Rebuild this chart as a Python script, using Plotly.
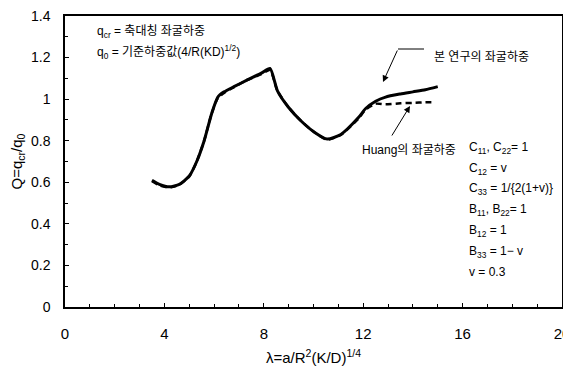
import plotly.graph_objects as go

# Data
lam_main = [3.5, 3.8, 4.2, 4.6, 5.0, 5.3, 5.6, 5.9, 6.15, 6.4, 6.8, 7.3, 7.9, 8.25,
            8.55, 9.0, 9.5, 10.05, 10.55, 11.1, 11.8, 12.1, 12.5, 12.9, 13.5, 14.0, 14.5, 15.0]
q_main = [0.61, 0.59, 0.578, 0.59, 0.63, 0.70, 0.80, 0.93, 1.01, 1.035, 1.06, 1.09, 1.125, 1.148,
          1.04, 0.96, 0.895, 0.84, 0.808, 0.83, 0.91, 0.955, 0.99, 1.01, 1.025, 1.035, 1.045, 1.06]

lam_huang = [3.5, 3.8, 4.2, 4.6, 5.0, 5.3, 5.6, 5.9, 6.15, 6.4, 6.8, 7.3, 7.9, 8.25,
             8.55, 9.0, 9.5, 10.05, 10.55, 11.1, 11.8, 12.1, 12.5, 12.9, 13.5, 14.0, 14.5, 14.8]
q_huang = [0.605, 0.585, 0.575, 0.588, 0.628, 0.70, 0.80, 0.93, 1.005, 1.03, 1.058, 1.09, 1.12, 1.14,
           1.04, 0.96, 0.895, 0.84, 0.805, 0.828, 0.905, 0.95, 0.978, 0.975, 0.98, 0.982, 0.985, 0.985]

x_ticks = [0, 4, 8, 12, 16, 20]
y_ticks = [0, 0.2, 0.4, 0.6, 0.8, 1.0, 1.2, 1.4]
y_ticklabels = ["0", "0.2", "0.4", "0.6", "0.8", "1", "1.2", "1.4"]

param_lines = [
    "C<sub>11</sub>, C<sub>22</sub>= 1",
    "C<sub>12</sub> = v",
    "C<sub>33</sub> = 1/{2(1+v)}",
    "B<sub>11</sub>, B<sub>22</sub>= 1",
    "B<sub>12</sub> = 1",
    "B<sub>33</sub> = 1\u2212 v",
    "v = 0.3",
]

FONT = "Liberation Sans, Arial, Noto Sans CJK KR"

fig = go.Figure()
fig.add_trace(go.Scatter(x=lam_huang, y=q_huang, mode="lines",
                         line=dict(color="black", width=2.5, dash="6px,4px", shape="spline", smoothing=0.6),
                         showlegend=False))
fig.add_trace(go.Scatter(x=lam_main, y=q_main, mode="lines",
                         line=dict(color="black", width=3, shape="spline", smoothing=0.6),
                         showlegend=False))

OFF = 8  # page body margin
W, H = 571 - OFF, 378 - 2 * OFF  # fit inside the window without scrollbars
# target plot area in screen pixels
PL, PR, PT, PB = 65, 562, 16, 307
ml, mr, mt, mb = PL - OFF, W - (PR - OFF), PT - OFF, H - (PB - OFF)

fig.update_layout(
    width=W, height=H,
    margin=dict(l=ml, r=mr, t=mt, b=mb, pad=0, autoexpand=False),
    paper_bgcolor="white", plot_bgcolor="white",
    font=dict(family=FONT, size=14, color="black"),
    showlegend=False,
    xaxis=dict(range=[0, 20], tickvals=x_ticks, ticks="inside", ticklen=4, tickcolor="black",
               showline=True, linecolor="black", linewidth=1.5, mirror=True, showgrid=False, zeroline=False,
               minor=dict(dtick=1, ticks="inside", ticklen=3, tickcolor="black"),
               tickfont=dict(size=15), ticklabelstandoff=12, ticklabeloverflow="allow",
               automargin=False,
               title=dict(text="\u03bb=a/R<sup>2</sup>(K/D)<sup>1/4</sup>", font=dict(size=15), standoff=12)),
    yaxis=dict(range=[0, 1.4], tickvals=y_ticks, ticktext=y_ticklabels, ticks="inside", ticklen=4,
               tickcolor="black", showline=True, linecolor="black", linewidth=1.5, mirror=True,
               showgrid=False, zeroline=False,
               minor=dict(dtick=0.1, ticks="inside", ticklen=3, tickcolor="black"),
               tickfont=dict(size=14), ticklabelstandoff=10, automargin=False, ticklabeloverflow="allow",
               title=dict(text="Q=q<sub>cr</sub>/q<sub>0</sub>", font=dict(size=15), standoff=8)),
)

def px_to_data(px, py):
    return (px - PL) / (PR - PL) * 20, (PB - py) / (PB - PT) * 1.4

items = []
items.append(((95, 32), "q<sub>cr</sub> = 축대칭 좌굴하중", "left", 12))
items.append(((95, 52), "q<sub>0</sub> = 기준하중값(4/R(KD)<sup>1/2</sup>)", "left", 12))
items.append(((432, 57), "본 연구의 좌굴하중", "left", 12))
items.append(((409, 150), "Huang의 좌굴하중", "center", 12))
for i, t in enumerate(param_lines):
    items.append(((467, 148 + i * 20.7), t, "left", 12))

annotations = []
for (px, py), t, al, fs in items:
    xd, yd = px_to_data(px, py)
    annotations.append(dict(x=xd, y=yd, xref="x", yref="y", text=t, showarrow=False,
                            xanchor=al, yanchor="middle", font=dict(size=fs, family=FONT)))

# arrows
for head, tail in [((383, 82), (398, 49)), ((410, 106), (391, 137))]:
    hx, hy = px_to_data(*head)
    tx, ty = px_to_data(*tail)
    annotations.append(dict(x=hx, y=hy, ax=tx, ay=ty, xref="x", yref="y", axref="x", ayref="y",
                            text="", showarrow=True, arrowhead=2, arrowsize=1.3, arrowwidth=1,
                            arrowcolor="black"))
fig.update_layout(annotations=annotations)

x0, y0 = px_to_data(398, 49)
x1, y1 = px_to_data(424, 49)
fig.add_shape(type="line", x0=x0, y0=y0, x1=x1, y1=y1, xref="x", yref="y",
              line=dict(color="black", width=1))

fig.write_html("out.html")
